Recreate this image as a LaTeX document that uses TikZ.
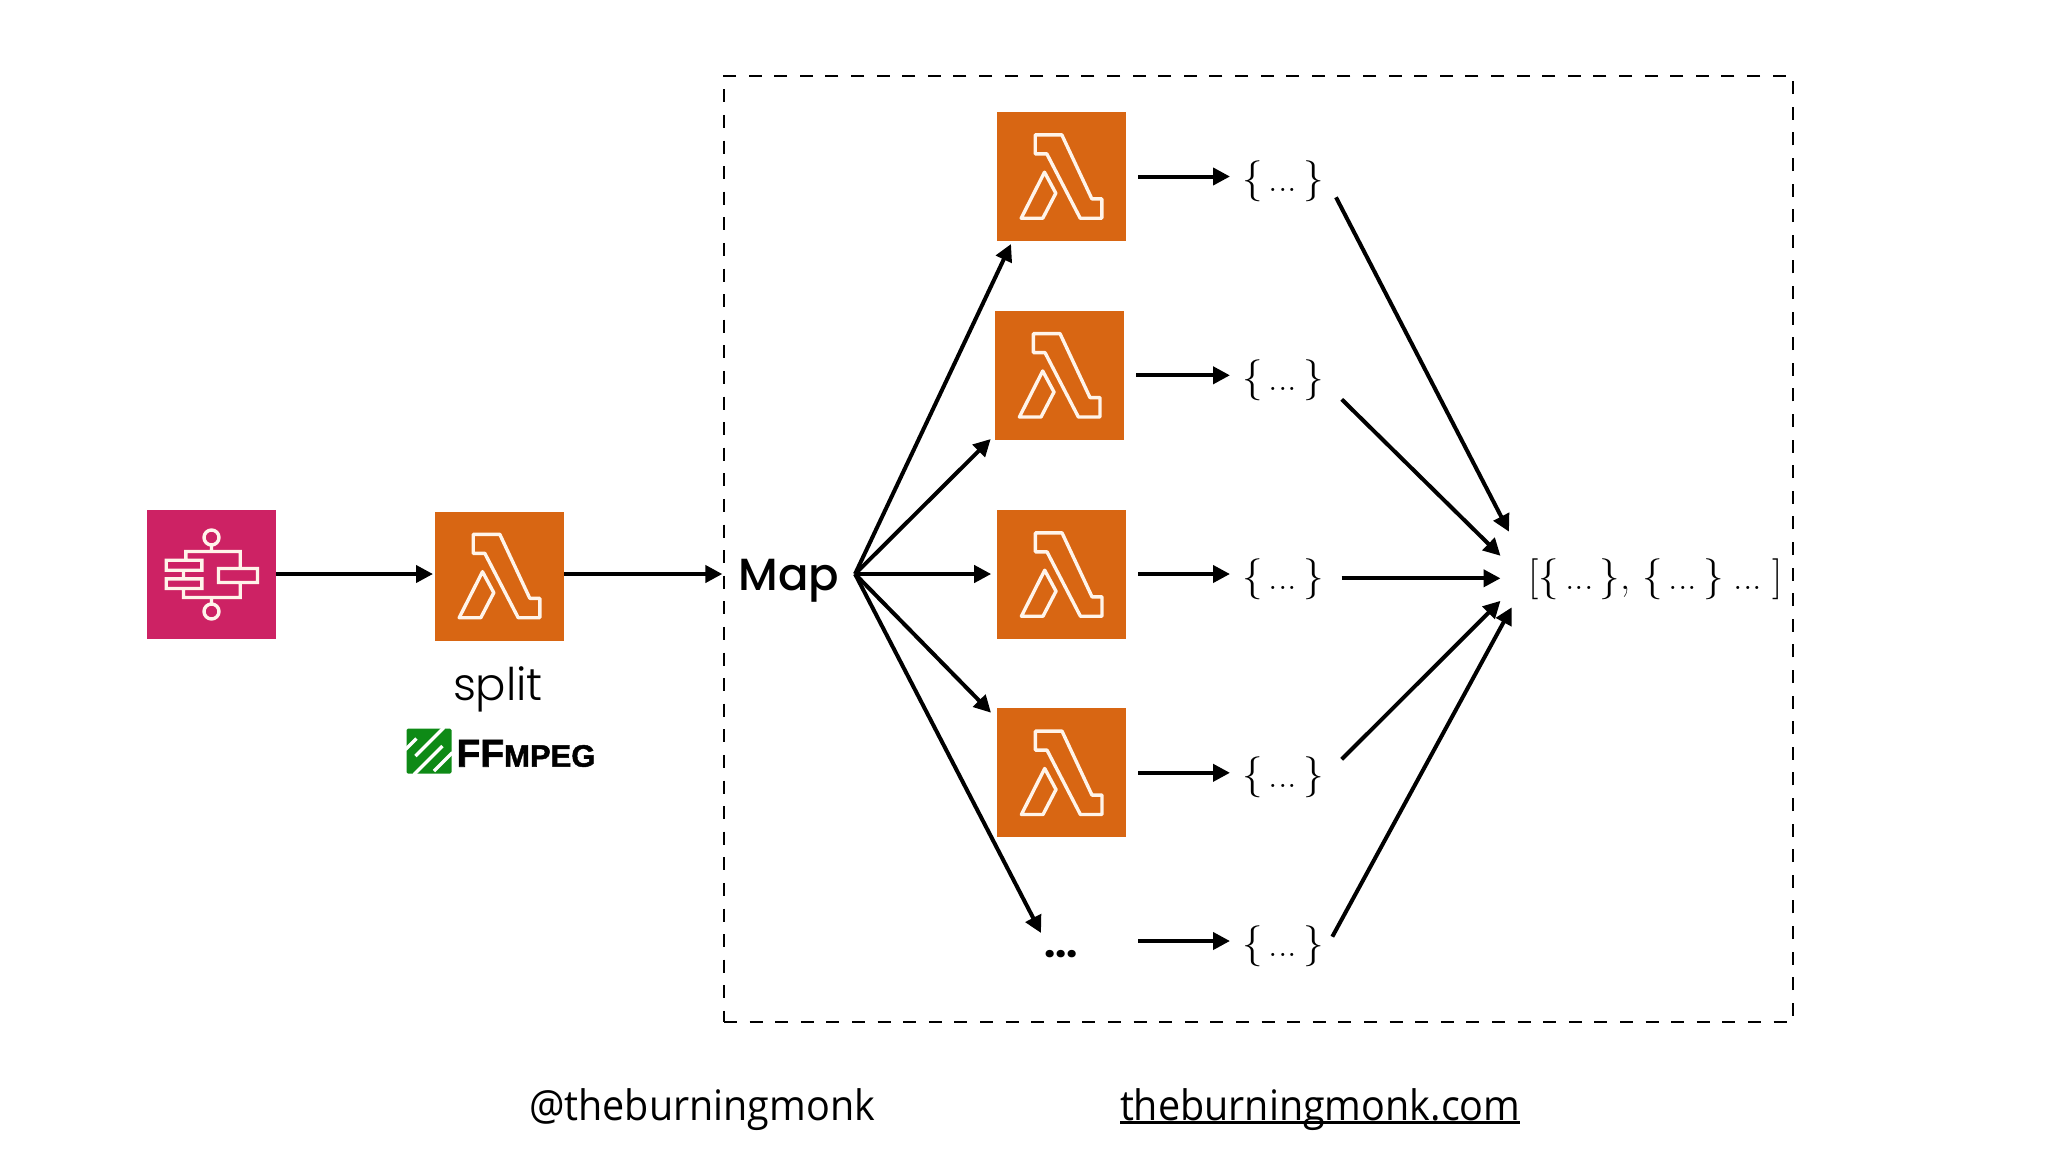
\documentclass[tikz,border=0pt]{standalone}
\usepackage{fontspec}
\usepackage{tikz}
\usetikzlibrary{arrows.meta}

\newfontfamily\mapfont{Poppins Medium}
\newfontfamily\splitfont{Poppins Light}
\newfontfamily\dotsfont{Poppins}
\newfontfamily\footfont[FakeStretch=0.94]{Open Sans}
\newfontfamily\ffmpegfont[BoldFeatures={FakeBold=1.5}]{Liberation Sans}

\definecolor{lambdaorange}{HTML}{D86613}
\definecolor{steppink}{HTML}{CD2264}
\definecolor{ffgreen}{HTML}{0E8A16}
\definecolor{iconline}{HTML}{FFF4EA}

\newcommand{\fsize}[1]{\fontsize{#1}{#1}\selectfont}
\newcommand{\objdots}{{\fsize{38}...}}
\newcommand{\jsonobj}{\{\hspace{6pt}\objdots\hspace{6pt}\}}
\newcommand{\ulined}[1]{\setbox0\hbox{#1}\rlap{\rule[-4pt]{\wd0}{3pt}}\box0}

\tikzset{
  lambdaicon/.pic={
    \draw[iconline,line width=3.4pt,line join=round]
      (-26.3,-41.7) -- (0.3,-41.7) -- (30.3,22.3) -- (40.3,22.3) -- (40.3,41.7)
      -- (18.7,41.7) -- (-14.7,-22.7) -- (-26.3,-22.7) -- cycle;
    \draw[iconline,line width=3.4pt,line join=round]
      (-40.3,41.7) -- (-17,-4.3) -- (-5.7,16.7) -- (-18.7,41.7) -- cycle;
  },
  stepicon/.pic={
    \draw[iconline,line width=3.4pt]
      (0,-37) circle (7.5) (0,37) circle (7.5)
      (0,-29.5) -- (0,-23) (0,23) -- (0,29.5)
      (-25.7,-14.3) -- (-25.7,-23) -- (28.7,-23) -- (28.7,-6)
      (-28,14) -- (-28,23) -- (28.7,23) -- (28.7,8)
      (-28,-4.3) -- (-28,4.3)
      (-45.3,-14.3) rectangle (-9.7,-4.3)
      (-45.3,4.3) rectangle (-9.7,14)
      (7,-6) rectangle (46,8);
  },
  fflogo/.pic={
    \fill[ffgreen,rounded corners=1.5pt] (-22.5,-22.5) rectangle (22.5,22.5);
    \draw[white,line width=3.5pt]
      (-23.5,-1.5) -- (-12.5,-12.5)
      (-13.5,5) -- (15,-23.5)
      (-15,23.5) -- (13.5,-5)
      (5,20) -- (23.5,1.5);
  }
}

\begin{document}
\begin{tikzpicture}[x=1pt,y=-1pt,>={Triangle[length=17pt,width=17pt]},
                    every node/.style={inner sep=0pt,outer sep=0pt},
                    flow/.style={->,line width=4pt},
                    flowout/.style={flow,shorten <=12pt}]
  \tikzstyle{region}=[draw,dashed,line width=2.3pt,dash pattern=on 13pt off 12.6pt,
                      minimum width=1068.7pt,minimum height=946.6pt]
  \tikzstyle{awsbox}=[minimum size=129pt]
  \tikzstyle{lambda}=[awsbox,fill=lambdaorange]
  \tikzstyle{jsonobj}=[minimum width=106pt,text height=42pt,text depth=12pt,
                       font=\fsize{41}]

  \useasboundingbox (0,0) rectangle (2048,1152);

  \node[region] (mapregion) at (1258.35,549) {};

  \node[awsbox,fill=steppink] (step) at (211.5,574.5) {};
  \node[lambda] (split) at (499.5,576) {};
  \node[lambda] (lamA) at (1061.5,176.5) {};
  \node[lambda] (lamB) at (1059.7,375.3) {};
  \node[lambda] (lamC) at (1061.7,574.5) {};
  \node[lambda] (lamD) at (1061.7,772.8) {};
  \pic at (step) {stepicon};
  \pic at (split) {lambdaicon};
  \pic at (lamA) {lambdaicon};
  \pic at (lamB) {lambdaicon};
  \pic at (lamC) {lambdaicon};
  \pic at (lamD) {lambdaicon};

  \node[anchor=base] (splitlabel) at (498,700) {\splitfont\fsize{45}split};
  \pic at (429,751) {fflogo};
  \node[anchor=base west] (ffmpeg) at (456.5,766.7)
    {\ffmpegfont\bfseries\fsize{39}FF\fsize{31}MPEG};

  \node[inner xsep=16pt,text height=44pt,text depth=12pt] (map) at (788.7,574)
    {\mapfont\fsize{45}Map};
  \node[minimum width=40pt,minimum height=42pt] (more) at (1061,954)
    {\dotsfont\bfseries\fsize{40}...};

  \node[jsonobj] (objA) at (1283,176.5) {\jsonobj};
  \node[jsonobj] (objB) at (1283,375.3) {\jsonobj};
  \node[jsonobj] (objC) at (1283,574) {\jsonobj};
  \node[jsonobj] (objD) at (1283,772.8) {\jsonobj};
  \node[jsonobj] (objE) at (1283,941) {\jsonobj};
  \node[minimum width=310pt,minimum height=44pt,text height=34pt,text depth=11pt,
        font=\fsize{41}] (result) at (1655.5,578.3)
    {[\jsonobj,\hspace{12pt}\jsonobj\hspace{10pt}\objdots\hspace{10pt}]};

  \node[anchor=base west,font=\footfont\fsize{42}] (handle) at (529,1120)
    {@theburningmonk};
  \node[anchor=base west,font=\footfont\fsize{42}] (site) at (1120,1120)
    {\ulined{theburningmonk.com}};

  % free ends of the connectors
  \coordinate (lamAin) at (1011,244);
  \coordinate (lamBin) at (990.7,439);
  \coordinate (lamDin) at (991,712.7);
  \coordinate (moreOut) at (1126,941);
  \coordinate (outA) at (1336,197.3);
  \coordinate (outB) at (1341.7,399.3);
  \coordinate (outC) at (1341.7,578.3);
  \coordinate (outD) at (1341.7,759.3);
  \coordinate (outE) at (1332.3,936.7);
  \coordinate (resA) at (1509,531.7);
  \coordinate (resE) at (1511.7,607.3);

  \draw[flow] (step.east |- map) -- ([xshift=-2pt]split.west |- map);
  \draw[flow] (split.east |- map) -- (map.west);

  \path[flow] (map.east) edge (lamAin)
                         edge (lamBin)
                         edge [shorten >=6pt] (lamC.west |- map)
                         edge (lamDin)
                         edge (more.north west);

  \draw[flowout] (lamA.east) -- (objA.west);
  \draw[flowout] (lamB.east) -- (objB.west);
  \draw[flowout] (lamC.east |- objC) -- (objC.west);
  \draw[flowout] (lamD.east) -- (objD.west);
  \draw[flowout] (moreOut) -- (objE.west);

  \draw[flow] (outA) -- (resA);
  \draw[flow] (outB) -- (result.north west);
  \draw[flow] (outC) -- (result.west);
  \draw[flow] (outD) -- (result.south west);
  \draw[flow] (outE) -- (resE);
\end{tikzpicture}
\end{document}
